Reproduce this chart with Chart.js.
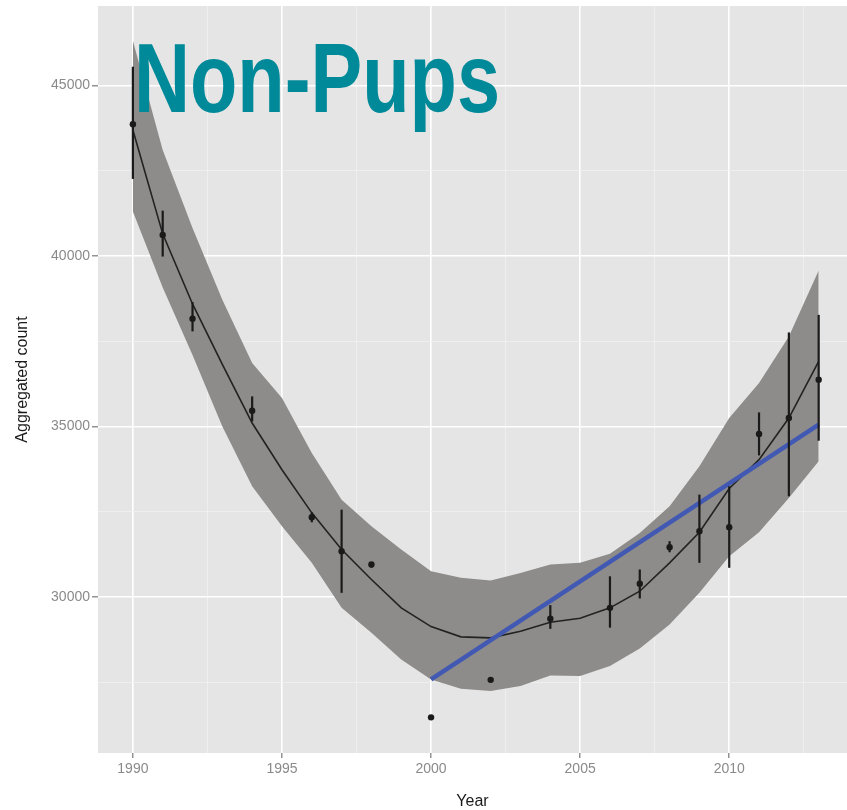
<!DOCTYPE html>
<html>
<head>
<meta charset="utf-8">
<script src="https://cdn.jsdelivr.net/npm/chart.js@4.4.1/dist/chart.umd.min.js"></script>
<style>
  html, body { margin: 0; padding: 0; background: #fff; }
  #chart { display: block; }
</style>
</head>
<body>
<canvas id="chart" width="847" height="810"></canvas>
<script>
const titleText = 'Non-Pups';

// observed yearly counts with error bars
const years = [1990, 1991, 1992, 1994, 1996, 1997, 1998, 2000, 2002, 2004, 2006, 2007, 2008, 2009, 2010, 2011, 2012, 2013];
const counts = [43860, 40615, 38155, 35460, 32335, 31340, 30950, 26470, 27570, 29360, 29680, 30385, 31455, 31925, 32045, 34780, 35245, 36370];
const errLow = [42255, 39980, 37785, 35145, 32190, 30120, 30860, null, null, 29065, 29100, 29955, 31310, 31000, 30855, 34150, 32950, 34580];
const errHigh = [45545, 41325, 38645, 35880, 32480, 32560, 31010, null, null, 29760, 30605, 30805, 31635, 33000, 33245, 35410, 37755, 38270];

// smoother and its confidence band
const fitYears = [1990, 1991, 1992, 1993, 1994, 1995, 1996, 1997, 1998, 1999, 2000, 2001, 2002, 2003, 2004, 2005, 2006, 2007, 2008, 2009, 2010, 2011, 2012, 2013];
const fitLine = [43690, 40645, 38590, 36820, 35100, 33730, 32465, 31390, 30510, 29680, 29130, 28830, 28800, 28996, 29260, 29377, 29680, 30168, 31000, 31897, 33180, 34025, 35246, 36905];
const fitUpper = [46306, 43105, 40820, 38714, 36860, 35832, 34222, 32853, 32070, 31390, 30754, 30560, 30480, 30705, 30950, 31000, 31263, 31877, 32658, 33830, 35246, 36271, 37637, 39570];
const fitLower = [41298, 39072, 37092, 35000, 33243, 32070, 31000, 29680, 28950, 28167, 27580, 27308, 27240, 27386, 27700, 27680, 27976, 28485, 29192, 30120, 31193, 31900, 32904, 33975];

// linear trend since 2000
const trendYears = [2000, 2013];
const trendLine = [27580, 35050];

const xTicks = [1990, 1992.5, 1995, 1997.5, 2000, 2002.5, 2005, 2007.5, 2010, 2012.5];
const yTicks = [27500, 30000, 32500, 35000, 37500, 40000, 42500, 45000];

const toXY = (xs, ys) => xs.map((x, i) => ({ x: x, y: ys[i] }));

const isMajorX = v => v % 5 === 0;
const isMajorY = v => v % 5000 === 0;

// keep the panel edges where ggplot put them
const noPad = scale => {
  scale.paddingLeft = 0;
  scale.paddingRight = 0;
  scale.paddingTop = 0;
  scale.paddingBottom = 0;
};

const errorBars = {
  id: 'errorBars',
  afterDatasetsDraw(chart) {
    const { ctx, scales: { x, y } } = chart;
    ctx.save();
    ctx.strokeStyle = '#1a1a1a';
    ctx.lineWidth = 2.2;
    years.forEach((yr, i) => {
      if (errLow[i] == null) return;
      const px = x.getPixelForValue(yr);
      ctx.beginPath();
      ctx.moveTo(px, y.getPixelForValue(errLow[i]));
      ctx.lineTo(px, y.getPixelForValue(errHigh[i]));
      ctx.stroke();
    });
    ctx.restore();
  }
};

const bigTitle = {
  id: 'bigTitle',
  afterDraw(chart) {
    const ctx = chart.ctx;
    ctx.save();
    ctx.font = "bold 98px 'Liberation Sans', Arial, sans-serif";
    ctx.fillStyle = '#008A99';
    ctx.textBaseline = 'alphabetic';
    const w = ctx.measureText(titleText).width;
    ctx.translate(134, 112);
    ctx.scale(366 / w, 1);
    ctx.fillText(titleText, 0, 0);
    ctx.restore();
  }
};

Chart.defaults.font.family = "'Liberation Sans', Arial, sans-serif";

new Chart(document.getElementById('chart'), {
  type: 'line',
  data: {
    datasets: [
      {
        data: toXY(fitYears, fitUpper),
        borderWidth: 0,
        pointRadius: 0,
        fill: '+1',
        backgroundColor: '#8E8C8A',
        order: 10
      },
      {
        data: toXY(fitYears, fitLower),
        borderWidth: 0,
        pointRadius: 0,
        fill: false,
        order: 11
      },
      {
        data: toXY(fitYears, fitLine),
        borderColor: '#222222',
        borderWidth: 1.6,
        pointRadius: 0,
        tension: 0,
        order: 3
      },
      {
        data: toXY(trendYears, trendLine),
        borderColor: '#4259B3',
        borderWidth: 4.5,
        pointRadius: 0,
        order: 2
      },
      {
        data: toXY(years, counts),
        showLine: false,
        pointRadius: 3.2,
        pointBackgroundColor: '#1a1a1a',
        pointBorderWidth: 0,
        order: 1
      }
    ]
  },
  options: {
    responsive: false,
    animation: false,
    devicePixelRatio: 1,
    layout: { autoPadding: false, padding: { top: 6, left: 0, right: 0, bottom: 0 } },
    plugins: {
      legend: { display: false },
      tooltip: { enabled: false }
    },
    scales: {
      x: {
        type: 'linear',
        min: 1988.83,
        max: 2013.95,
        afterBuildTicks: scale => { scale.ticks = xTicks.map(v => ({ value: v })); },
        afterFit: scale => { scale.height = 57; noPad(scale); },
        border: { display: false },
        grid: {
          color: c => (c.tick && isMajorX(c.tick.value)) ? '#ffffff' : '#f1f1f1',
          lineWidth: c => (c.tick && isMajorX(c.tick.value)) ? 1.6 : 0.8,
          tickColor: c => (c.tick && isMajorX(c.tick.value)) ? '#777777' : 'rgba(0,0,0,0)',
          tickLength: 5,
          tickWidth: 1.2
        },
        ticks: {
          autoSkip: false,
          maxRotation: 0,
          padding: 3,
          color: '#8a8a8a',
          font: { size: 14 },
          callback: v => isMajorX(v) ? String(v) : ''
        },
        title: {
          display: true,
          text: 'Year',
          color: '#1a1a1a',
          font: { size: 16, lineHeight: 1 },
          padding: { top: 0, bottom: 0 }
        }
      },
      y: {
        min: 25425,
        max: 47325,
        afterBuildTicks: scale => { scale.ticks = yTicks.map(v => ({ value: v })); },
        afterFit: scale => { scale.width = 98; noPad(scale); },
        border: { display: false },
        grid: {
          color: c => (c.tick && isMajorY(c.tick.value)) ? '#ffffff' : '#f1f1f1',
          lineWidth: c => (c.tick && isMajorY(c.tick.value)) ? 1.6 : 0.8,
          tickColor: c => (c.tick && isMajorY(c.tick.value)) ? '#777777' : 'rgba(0,0,0,0)',
          tickLength: 6,
          tickWidth: 1.2
        },
        ticks: {
          autoSkip: false,
          padding: 2,
          color: '#8a8a8a',
          font: { size: 14 },
          callback: v => isMajorY(v) ? String(v) : ''
        },
        title: {
          display: true,
          text: 'Aggregated count',
          color: '#1a1a1a',
          font: { size: 16, lineHeight: 1 },
          padding: { top: 15, bottom: 0 }
        }
      }
    }
  },
  plugins: [
    {
      id: 'panelBg',
      beforeDraw(chart) {
        const { ctx, chartArea: a } = chart;
        ctx.save();
        ctx.fillStyle = '#E5E5E5';
        ctx.fillRect(a.left, a.top, a.right - a.left, a.bottom - a.top);
        ctx.restore();
      }
    },
    errorBars,
    bigTitle
  ]
});
</script>
</body>
</html>
